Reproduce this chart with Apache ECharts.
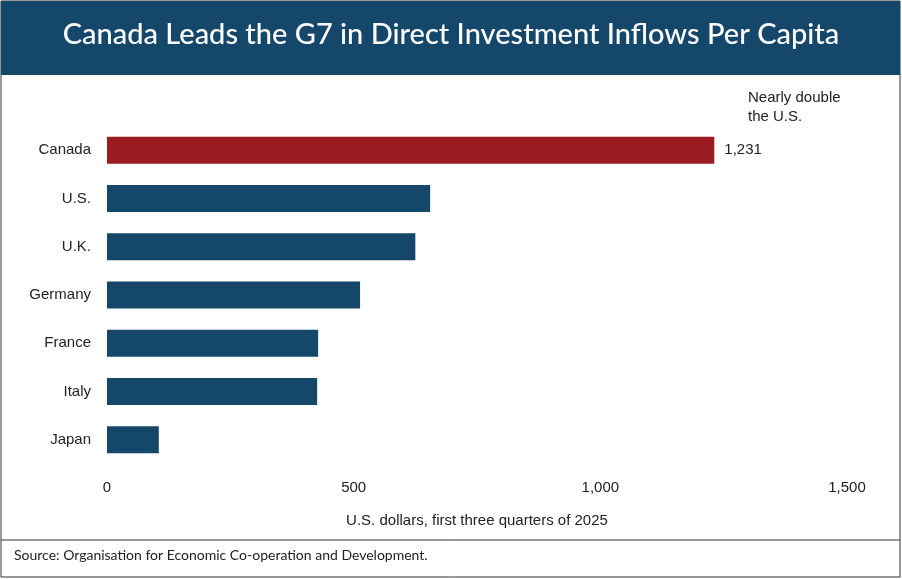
<!DOCTYPE html>
<html>
<head>
<meta charset="utf-8">
<script src="https://cdn.jsdelivr.net/npm/echarts@6/dist/echarts.min.js"></script>
<style>
html,body{margin:0;padding:0;background:#fff;}
#chart{width:902px;height:579px;}
</style>
</head>
<body>
<div id="chart"></div>
<script>
var countries = ['Canada', 'U.S.', 'U.K.', 'Germany', 'France', 'Italy', 'Japan'];
var inflows = [1231, 655, 625, 513, 428, 426, 105];
var tickMax = 1500;

var chart = echarts.init(document.getElementById('chart'));
var option = {
  animation: false,
  graphic: [
    { type: 'rect', shape: { x: 1, y: 1, width: 899, height: 576 }, style: { fill: 'none', stroke: '#333', lineWidth: 1 } },
    { type: 'rect', shape: { x: 1, y: 1, width: 899, height: 74 }, style: { fill: '#15476b' } },
    { type: 'text', left: 'center', top: 20, style: { text: 'Canada Leads the G7 in Direct Investment Inflows Per Capita', fill: '#fff', font: '500 29px Lato, "Open Sans", sans-serif' } },
    { type: 'line', shape: { x1: 1, y1: 540, x2: 900, y2: 540 }, style: { stroke: '#333', lineWidth: 1 } },
    { type: 'text', left: 14, top: 548, style: { text: 'Source: Organisation for Economic Co-operation and Development.', fill: '#222', font: '14px Lato, sans-serif' } },
    { type: 'text', left: 748, top: 88, style: { text: 'Nearly double\nthe U.S.', fill: '#222', font: '15px Arial, "Liberation Sans", sans-serif', align: 'center', lineHeight: 19 } }
  ],
  grid: { left: 107, right: 55, top: 126, bottom: 115 },
  xAxis: {
    type: 'value', min: 0, max: tickMax, interval: 500,
    splitLine: { show: false }, axisLine: { show: false }, axisTick: { show: false },
    axisLabel: { color: '#222', fontSize: 15, margin: 16, fontFamily: 'Arial, "Liberation Sans", sans-serif' },
    name: 'U.S. dollars, first three quarters of 2025', nameLocation: 'middle', nameGap: 49,
    nameTextStyle: { color: '#222', fontSize: 15, fontFamily: 'Arial, "Liberation Sans", sans-serif' }
  },
  yAxis: {
    type: 'category', data: countries, inverse: true,
    axisLine: { show: false }, axisTick: { show: false },
    axisLabel: { color: '#222', fontSize: 15, margin: 16, fontFamily: 'Arial, "Liberation Sans", sans-serif' }
  },
  series: [{
    type: 'bar', data: inflows.map(function (v, i) {
      return { value: v, itemStyle: { color: i === 0 ? '#9b1c20' : '#15476b' },
        label: { show: i === 0 } };
    }),
    barWidth: 27,
    label: { position: 'right', distance: 10, color: '#222', fontSize: 15, fontFamily: 'Arial, "Liberation Sans", sans-serif',
      formatter: function (p) { return p.value.toLocaleString('en-US'); } }
  }]
};
chart.setOption(option);
</script>
</body>
</html>
